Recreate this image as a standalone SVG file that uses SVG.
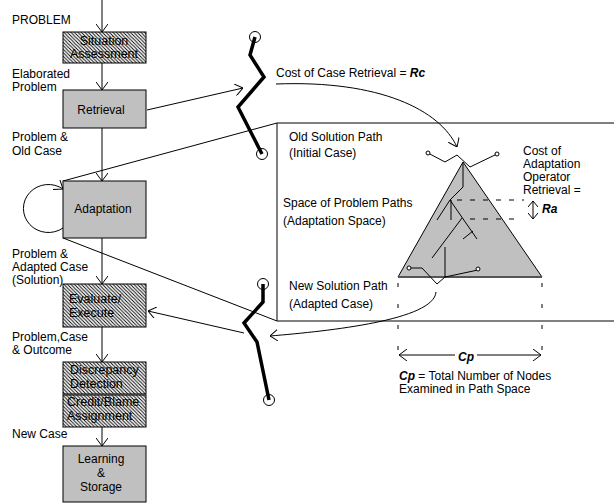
<svg xmlns="http://www.w3.org/2000/svg" width="614" height="503" viewBox="0 0 614 503">
<defs>
<pattern id="hatch" patternUnits="userSpaceOnUse" width="3.5" height="3.5">
<rect width="3.5" height="3.5" fill="#fff"/>
<path d="M-1,-1 L4.5,4.5 M-1,2.5 L1,4.5 M2.5,-1 L4.5,1" stroke="#000" stroke-width="0.9"/>
</pattern>
<marker id="ah" viewBox="0 0 8 12" refX="8" refY="6" markerWidth="8" markerHeight="12" orient="auto-start-reverse" markerUnits="userSpaceOnUse">
<path d="M0,0 L8,6 L0,12" fill="none" stroke="#000" stroke-width="1"/>
</marker>
<marker id="ahs" viewBox="0 0 6 10" refX="6" refY="5" markerWidth="6" markerHeight="10" orient="auto-start-reverse" markerUnits="userSpaceOnUse">
<path d="M0,0 L6,5 L0,10" fill="none" stroke="#000" stroke-width="1"/>
</marker>
</defs>
<style>
text{font-family:"Liberation Sans",Arial,sans-serif;font-size:12px;fill:#000}
.h{font-size:12.5px}
.bi{font-weight:bold;font-style:italic}
.box{fill:#c0c0c0;stroke:#000;stroke-width:1}
.hb{fill:url(#hatch);stroke:#000;stroke-width:1}
.ln{fill:none;stroke:#000;stroke-width:1}
.zz{fill:none;stroke:#000;stroke-width:3.5;stroke-linejoin:miter}
.dash{fill:none;stroke:#000;stroke-width:1;stroke-dasharray:5 8}
.vd{fill:none;stroke:#000;stroke-width:1;stroke-dasharray:4 17}
</style>
<rect width="614" height="503" fill="#fff"/>

<g id="connectors">
<line class="ln" x1="102" y1="0" x2="102" y2="32" marker-end="url(#ah)"/>
<line class="ln" x1="102" y1="63" x2="102" y2="90" marker-end="url(#ah)"/>
<line class="ln" x1="102" y1="128" x2="102" y2="181" marker-end="url(#ah)"/>
<line class="ln" x1="102" y1="238" x2="102" y2="284" marker-end="url(#ah)"/>
<line class="ln" x1="102" y1="327" x2="102" y2="362" marker-end="url(#ah)"/>
<line class="ln" x1="102" y1="427" x2="102" y2="446" marker-end="url(#ah)"/>
<path class="ln" d="M63,228 A25,24 0 1 1 63,189" marker-end="url(#ah)"/>
<line class="ln" x1="147" y1="110" x2="243" y2="88" marker-end="url(#ah)"/>
<line class="ln" x1="63" y1="181" x2="277" y2="123"/>
<line class="ln" x1="63" y1="238" x2="277" y2="321"/>
<path class="ln" d="M276,84 C380,80 440,110 457,147" marker-end="url(#ah)"/>
<path class="ln" d="M436,292 C434,320 330,331 270,336" marker-end="url(#ah)"/>
<line class="ln" x1="244" y1="333" x2="148" y2="311" marker-end="url(#ah)"/>
</g>

<g id="space-box">
<path class="ln" d="M614,123 L277,123 L277,321 L614,321"/>
</g>

<g id="situation-assessment">
<rect class="hb" x="63" y="32" width="83" height="31"/>
<text class="h" x="104" y="45" text-anchor="middle">Situation</text>
<text class="h" x="104" y="58" text-anchor="middle">Assessment</text>
</g>
<g id="retrieval">
<rect class="box" x="63" y="90" width="83" height="38"/>
<text x="101" y="114" text-anchor="middle">Retrieval</text>
</g>
<g id="adaptation">
<rect class="box" x="63" y="181" width="83" height="57"/>
<text x="103" y="213" text-anchor="middle">Adaptation</text>
</g>
<g id="evaluate-execute">
<rect class="hb" x="63" y="284" width="83" height="43"/>
<text class="h" x="69" y="303">Evaluate/</text>
<text class="h" x="69" y="317">Execute</text>
</g>
<g id="discrepancy-detection">
<rect class="hb" x="63" y="362" width="83" height="32"/>
<text class="h" x="70" y="374">Discrepancy</text>
<text class="h" x="70" y="388">Detection</text>
</g>
<g id="credit-blame">
<rect class="hb" x="63" y="395" width="83" height="32"/>
<text class="h" x="67" y="406">Credit/Blame</text>
<text class="h" x="67" y="420">Assignment</text>
</g>
<g id="learning-storage">
<rect class="box" x="63" y="446" width="83" height="56"/>
<text x="101" y="463" text-anchor="middle">Learning</text>
<text x="101" y="477" text-anchor="middle">&amp;</text>
<text x="101" y="491" text-anchor="middle">Storage</text>
</g>

<g id="left-labels">
<text x="12" y="24">PROBLEM</text>
<text x="12" y="78">Elaborated</text>
<text x="12" y="91">Problem</text>
<text x="12" y="141">Problem &amp;</text>
<text x="12" y="155">Old Case</text>
<text x="12" y="258">Problem &amp;</text>
<text x="12" y="271">Adapted Case</text>
<text x="12" y="284">(Solution)</text>
<text x="12" y="341">Problem,Case</text>
<text x="12" y="354">&amp; Outcome</text>
<text x="12" y="438">New Case</text>
</g>

<g id="zigzag-top">
<path class="zz" d="M255,37 L250,55 L264,77 L238,107 L262,154"/>
<circle cx="255" cy="37" r="5.5" fill="none" stroke="#000" stroke-width="1"/>
<circle cx="262" cy="154" r="5.5" fill="none" stroke="#000" stroke-width="1"/>
</g>
<g id="zigzag-bottom">
<path class="zz" d="M263,284 L263,302 L244,323 L257,342 L269,400"/>
<circle cx="263" cy="284" r="5.5" fill="none" stroke="#000" stroke-width="1"/>
<circle cx="269" cy="400" r="5.5" fill="none" stroke="#000" stroke-width="1"/>
</g>

<g id="path-space">
<polygon points="463,162 398,277 542,277" fill="#c0c0c0" stroke="#000" stroke-width="1"/>
<line x1="398" y1="277" x2="542" y2="277" stroke="#555" stroke-width="2"/>
<path class="ln" stroke-width="1.5" d="M463,163 L463,187 L450,200 L437,220 M451,200 L451,220 M450,200 L477,239 M462,218 L432,258 M473,231 L463,239 M445,247 L445,278"/>
<path class="ln" stroke-width="1.5" d="M428,153 L445,162 L457,155 L470,167 L497,154"/>
<circle cx="428" cy="153" r="2" fill="#fff" stroke="#000" stroke-width="1"/>
<circle cx="497" cy="154" r="2" fill="#fff" stroke="#000" stroke-width="1"/>
<path class="ln" stroke-width="1.5" d="M409,268 L422,268 L437,284 L445,277 L478,270"/>
<circle cx="409" cy="268" r="2" fill="#fff" stroke="#000" stroke-width="1"/>
<circle cx="478" cy="269" r="2" fill="#fff" stroke="#000" stroke-width="1"/>
<line class="dash" x1="457" y1="200" x2="524" y2="200"/>
<line class="dash" x1="470" y1="219" x2="520" y2="219"/>
<line class="ln" x1="533" y1="201" x2="533" y2="219" marker-start="url(#ahs)" marker-end="url(#ahs)"/>
<text class="bi" x="542" y="213">Ra</text>
<line class="vd" x1="398" y1="283" x2="398" y2="350"/>
<line class="vd" x1="542" y1="283" x2="542" y2="350"/>
<line class="ln" x1="399" y1="355" x2="541" y2="355" marker-start="url(#ah)" marker-end="url(#ah)"/>
<rect x="455" y="348" width="22" height="14" fill="#fff"/>
<text class="bi" x="466" y="361" text-anchor="middle">Cp</text>
</g>

<g id="right-labels">
<text x="276" y="77">Cost of Case Retrieval = <tspan class="bi">Rc</tspan></text>
<text x="289" y="141">Old Solution Path</text>
<text x="289" y="157">(Initial Case)</text>
<text x="283" y="207">Space of Problem Paths</text>
<text x="283" y="225">(Adaptation Space)</text>
<text x="289" y="290">New Solution Path</text>
<text x="289" y="308">(Adapted Case)</text>
<text x="523" y="155">Cost of</text>
<text x="523" y="168">Adaptation</text>
<text x="523" y="181">Operator</text>
<text x="523" y="194">Retrieval =</text>
<text x="399" y="380"><tspan class="bi">Cp</tspan>  = Total Number of Nodes</text>
<text x="399" y="393">Examined in Path Space</text>
</g>
</svg>
